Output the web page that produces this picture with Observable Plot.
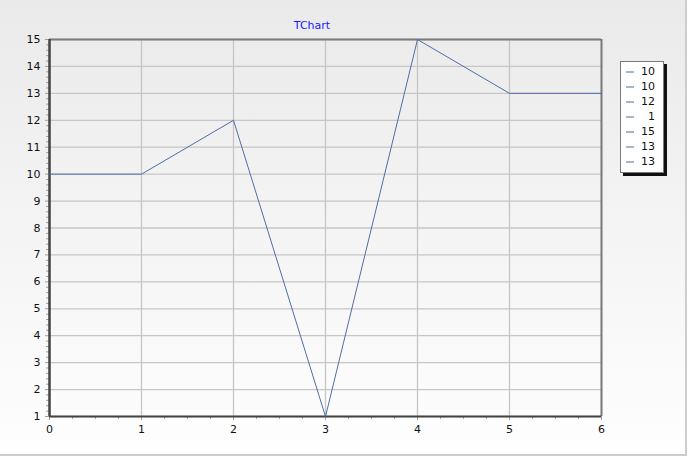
<!DOCTYPE html>
<html>
<head>
<meta charset="utf-8">
<script src="https://cdn.jsdelivr.net/npm/d3@7"></script>
<script src="https://cdn.jsdelivr.net/npm/@observablehq/plot@0.6"></script>
<style>
  html, body { margin: 0; padding: 0; background: #ffffff; }
  #wrap { position: relative; width: 689px; height: 457px; overflow: hidden; font-family: "DejaVu Sans", sans-serif; }
  #panel { position: absolute; left: 0; top: 0; width: 685px; height: 454px;
    background: linear-gradient(to bottom, #eaeaea 0%, #f4f4f4 50%, #fefefe 100%);
    border-right: 2px solid #cdcdcd; border-bottom: 2px solid #cdcdcd; }
  #chart { position: absolute; left: 0; top: 0; }
  #title { position: absolute; left: 0; width: 624px; top: 19px; text-align: center; color: #1a1aff; font-size: 11px; }
  #legend { position: absolute; left: 620px; top: 61px; width: 42px; height: 110px; background: #fff;
    border: 1px solid #7a7a7a; box-shadow: 3px 3px 0 #111; font-size: 11px; }
  .row { position: absolute; left: 0; width: 42px; height: 15px; }
  .sw { position: absolute; left: 5px; top: 7px; width: 8px; height: 2px; background: #a8b6cc; }
  .lab { position: absolute; right: 8px; top: 1px; color: #111; text-align: right; }
</style>
</head>
<body>
<div id="wrap">
  <div id="panel"></div>
  <div id="chart"></div>
  <div id="title"></div>
  <div id="legend"></div>
</div>
<script>
const titleText = "TChart";
const xValues = [0, 1, 2, 3, 4, 5, 6];
const yValues = [10, 10, 12, 1, 15, 13, 13];
const xTicks = [0, 1, 2, 3, 4, 5, 6];
const yTicks = [1, 2, 3, 4, 5, 6, 7, 8, 9, 10, 11, 12, 13, 14, 15];

const data = xValues.map((x, i) => ({x, y: yValues[i]}));
const xMinor = d3.range(0, 6.0001, 0.25).filter(v => Math.abs(v - Math.round(v)) > 1e-6);
const yMinor = d3.range(1, 15.0001, 0.2).filter(v => Math.abs(v - Math.round(v)) > 1e-6);

const chart = Plot.plot({
  width: 689,
  height: 457,
  marginLeft: 49,
  marginRight: 88,
  marginTop: 39,
  marginBottom: 41,
  style: { background: "transparent", fontFamily: "DejaVu Sans, sans-serif", fontSize: "11px", color: "#111" },
  x: { domain: [0, 6] },
  y: { domain: [1, 15] },
  marks: [
    Plot.ruleY(yTicks, { stroke: "#c6c6c6", strokeWidth: 1.3 }),
    Plot.ruleX(xTicks, { stroke: "#c6c6c6", strokeWidth: 1.3 }),
    Plot.axisY(yMinor, { tickSize: 3, tickFormat: () => "", stroke: "#a0a0a0", label: null }),
    Plot.axisY(yTicks, { tickSize: 4, tickPadding: 5, stroke: "#a0a0a0", label: null, fill: "#111" }),
    Plot.axisX(xMinor, { tickSize: 3, tickFormat: () => "", stroke: "#a0a0a0", label: null }),
    Plot.axisX(xTicks, { tickSize: 4, tickPadding: 5, stroke: "#a0a0a0", label: null, fill: "#111" }),
    Plot.ruleY([15], { stroke: "#7a7a7a", strokeWidth: 2 }),
    Plot.ruleX([6], { stroke: "#7a7a7a", strokeWidth: 2 }),
    Plot.ruleY([1], { stroke: "#444", strokeWidth: 2 }),
    Plot.ruleX([0], { stroke: "#444", strokeWidth: 2.5 }),
    Plot.line(data, { x: "x", y: "y", stroke: "#4f6ea8", strokeWidth: 1 })
  ]
});
document.getElementById("chart").appendChild(chart);
document.getElementById("title").textContent = titleText;

const legend = document.getElementById("legend");
yValues.forEach((v, i) => {
  const row = document.createElement("div");
  row.className = "row";
  row.style.top = (2 + i * 15) + "px";
  const sw = document.createElement("div");
  sw.className = "sw";
  const lab = document.createElement("div");
  lab.className = "lab";
  lab.textContent = String(v);
  row.appendChild(sw);
  row.appendChild(lab);
  legend.appendChild(row);
});
</script>
</body>
</html>
